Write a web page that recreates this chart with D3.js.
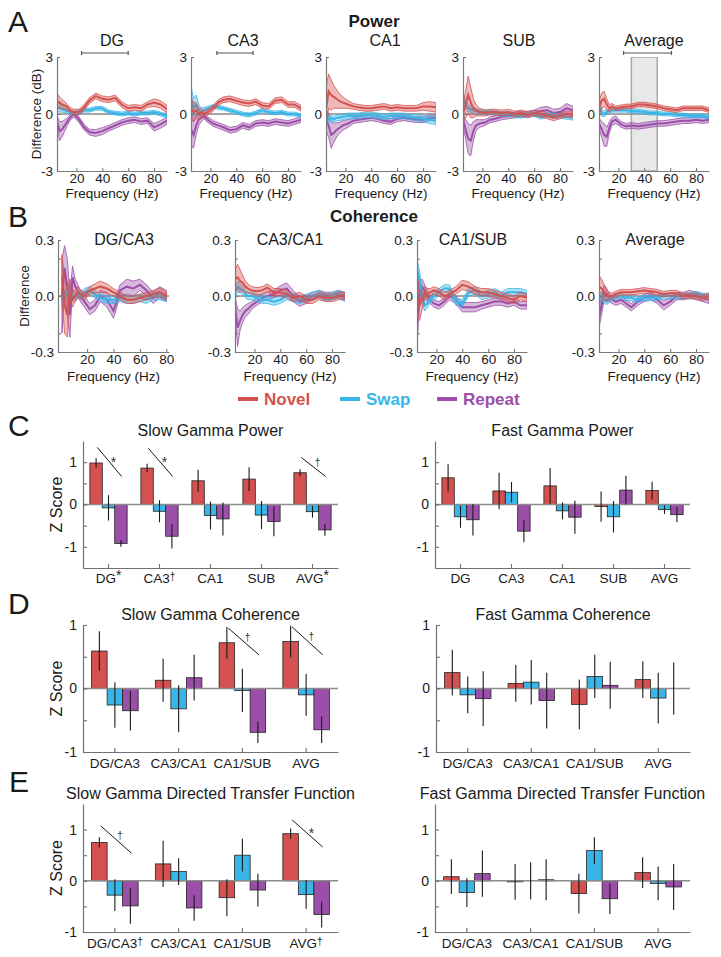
<!DOCTYPE html>
<html><head><meta charset="utf-8">
<script src="https://cdn.jsdelivr.net/npm/d3@7"></script>
<style>body{margin:0;background:#fff;}</style>
</head><body><svg id="c" width="721" height="957"></svg>
<script>
// ---------- DATA ----------
const series = ["Novel","Swap","Repeat"];
const seriesColors = ["#d4514f","#38b6e8","#9b4fa8"];

const freqA = [5,7,9,11,13,15,18,22,26,30,35,40,45,50,55,60,65,70,75,80,85,90];
const freqB1 = [1,3,5,7,9,11,13,15,18,22,26,30,35,40,45,50,55,60,65,70,75,80];

// Power (dB difference), mean and s.e.m.
const pDG_N  = [0.7,0.6,0.5,0.45,0.35,0.2,0.1,0.1,0.35,0.7,0.95,0.8,0.75,0.85,0.5,0.3,0.35,0.3,0.5,0.6,0.5,0.25];
const pDG_Ne = [0.4,0.3,0.25,0.2,0.15,0.15,0.15,0.15,0.15,0.15,0.15,0.15,0.15,0.15,0.15,0.15,0.15,0.15,0.15,0.2,0.2,0.2];
const pDG_S  = [0.4,0.3,0.25,0.2,0.15,0.1,0.05,0.1,0.2,0.2,0.3,0.3,0.1,0.05,0.0,0.05,0.0,0.05,0.05,0.1,0.0,-0.1];
const pDG_Se = [0.25,0.2,0.15,0.12,0.1,0.1,0.1,0.1,0.1,0.1,0.1,0.1,0.1,0.1,0.1,0.1,0.1,0.1,0.1,0.1,0.1,0.1];
const pDG_R  = [-0.4,-0.9,-0.8,-0.6,-0.4,-0.2,0.0,-0.3,-0.7,-0.95,-1.0,-0.9,-0.75,-0.6,-0.45,-0.35,-0.3,-0.4,-0.35,-0.7,-0.55,-0.35];
const pDG_Re = [0.3,0.5,0.4,0.3,0.2,0.15,0.15,0.15,0.15,0.15,0.18,0.18,0.15,0.15,0.15,0.15,0.15,0.15,0.15,0.2,0.2,0.2];

const pCA3_N  = [0.3,0.1,0.2,0.0,0.1,0.0,0.1,0.3,0.6,0.75,0.8,0.7,0.6,0.55,0.65,0.45,0.4,0.7,0.75,0.5,0.5,0.3];
const pCA3_Ne = [0.6,0.5,0.4,0.3,0.2,0.15,0.15,0.15,0.15,0.15,0.15,0.15,0.15,0.15,0.15,0.15,0.15,0.15,0.15,0.15,0.15,0.15];
const pCA3_S  = [0.8,0.3,0.5,0.2,0.1,0.2,0.3,0.4,0.35,0.3,0.2,0.1,0.0,-0.05,0.05,0.2,0.1,0.05,0.1,0.0,0.0,-0.1];
const pCA3_Se = [0.7,0.5,0.5,0.3,0.2,0.15,0.1,0.1,0.1,0.1,0.1,0.1,0.1,0.1,0.1,0.1,0.1,0.1,0.1,0.1,0.1,0.1];
const pCA3_R  = [-0.8,-1.1,-0.6,-0.3,-0.2,-0.1,-0.3,-0.5,-0.6,-0.7,-0.85,-0.8,-0.6,-0.7,-0.5,-0.45,-0.5,-0.4,-0.45,-0.5,-0.4,-0.3];
const pCA3_Re = [0.8,0.7,0.5,0.3,0.2,0.15,0.15,0.15,0.15,0.15,0.15,0.15,0.15,0.15,0.15,0.15,0.15,0.15,0.15,0.15,0.15,0.15];

const pCA1_N  = [0.2,1.2,1.0,0.9,0.8,0.7,0.6,0.5,0.4,0.35,0.3,0.3,0.35,0.4,0.3,0.35,0.3,0.3,0.3,0.4,0.4,0.35];
const pCA1_Ne = [1.2,0.9,0.8,0.6,0.5,0.4,0.3,0.2,0.15,0.15,0.15,0.15,0.15,0.15,0.15,0.15,0.15,0.15,0.15,0.2,0.25,0.25];
const pCA1_S  = [-0.1,-0.3,-0.2,-0.3,-0.2,-0.2,-0.15,-0.1,-0.1,-0.1,-0.05,-0.05,-0.1,-0.15,-0.1,-0.1,-0.1,-0.15,-0.2,-0.25,-0.3,-0.35];
const pCA1_Se = [0.3,0.2,0.15,0.15,0.15,0.15,0.15,0.15,0.15,0.15,0.15,0.15,0.15,0.15,0.15,0.15,0.15,0.15,0.15,0.15,0.2,0.2];
const pCA1_R  = [-0.3,-0.6,-1.1,-1.0,-0.85,-0.75,-0.6,-0.5,-0.35,-0.3,-0.25,-0.2,-0.25,-0.35,-0.4,-0.25,-0.2,-0.25,-0.3,-0.3,-0.2,-0.2];
const pCA1_Re = [0.6,0.6,0.7,0.5,0.4,0.3,0.25,0.2,0.15,0.15,0.15,0.15,0.15,0.15,0.15,0.15,0.15,0.15,0.15,0.15,0.15,0.15];

const pSUB_N  = [0.0,0.5,1.0,0.6,0.3,0.2,0.1,0.05,0.1,0.1,0.05,0.1,0.0,0.05,-0.05,0.05,0.0,-0.1,-0.2,-0.1,0.0,-0.05];
const pSUB_Ne = [0.5,0.7,1.0,0.8,0.5,0.3,0.2,0.15,0.15,0.15,0.15,0.15,0.15,0.15,0.15,0.15,0.15,0.15,0.15,0.15,0.15,0.15];
const pSUB_S  = [0.8,0.5,0.3,0.25,0.2,0.15,0.1,0.1,0.1,0.05,0.0,0.0,-0.05,-0.1,0.0,0.0,-0.15,-0.05,-0.1,-0.1,-0.15,-0.2];
const pSUB_Se = [0.3,0.25,0.2,0.15,0.15,0.15,0.12,0.12,0.12,0.12,0.12,0.12,0.12,0.12,0.12,0.12,0.12,0.12,0.12,0.12,0.12,0.12];
const pSUB_R  = [-0.3,-0.8,-1.3,-1.4,-0.9,-0.6,-0.5,-0.45,-0.3,-0.25,-0.15,-0.1,-0.05,0.0,0.0,0.05,0.15,0.2,0.05,0.1,0.3,0.2];
const pSUB_Re = [0.3,0.5,0.8,0.8,0.5,0.3,0.2,0.15,0.15,0.15,0.15,0.15,0.15,0.15,0.15,0.15,0.2,0.2,0.2,0.2,0.25,0.2];

const pAVG_N  = [0.3,0.7,0.8,0.5,0.3,0.4,0.3,0.35,0.4,0.4,0.5,0.5,0.45,0.4,0.3,0.25,0.2,0.3,0.3,0.3,0.3,0.2];
const pAVG_Ne = [0.4,0.4,0.4,0.3,0.2,0.15,0.12,0.12,0.12,0.12,0.12,0.12,0.12,0.12,0.12,0.12,0.12,0.12,0.12,0.12,0.12,0.12];
const pAVG_S  = [0.4,0.1,0.0,0.1,0.15,0.2,0.2,0.2,0.2,0.15,0.15,0.1,0.05,0.05,0.0,0.0,-0.05,-0.05,-0.1,-0.1,-0.1,-0.15];
const pAVG_Se = [0.3,0.2,0.15,0.12,0.1,0.1,0.1,0.1,0.1,0.1,0.1,0.1,0.1,0.1,0.1,0.1,0.1,0.1,0.1,0.1,0.1,0.1];
const pAVG_R  = [-0.5,-0.8,-1.1,-1.2,-0.7,-0.4,-0.3,-0.55,-0.65,-0.6,-0.65,-0.6,-0.55,-0.5,-0.5,-0.45,-0.4,-0.35,-0.35,-0.3,-0.35,-0.3];
const pAVG_Re = [0.3,0.4,0.6,0.5,0.3,0.2,0.2,0.15,0.15,0.15,0.15,0.15,0.15,0.15,0.15,0.15,0.15,0.15,0.15,0.15,0.15,0.15];

// Coherence difference, mean and s.e.m.
const cDC_N  = [0.1,-0.05,-0.1,0.03,-0.02,0.0,0.02,0.01,0.0,0.03,0.04,0.05,0.04,0.02,0.0,-0.02,-0.02,-0.01,0.0,0.01,0.02,0.0];
const cDC_Ne = [0.12,0.15,0.12,0.06,0.04,0.03,0.03,0.025,0.02,0.02,0.025,0.03,0.025,0.02,0.02,0.02,0.02,0.02,0.02,0.02,0.025,0.02];
const cDC_S  = [-0.03,0.0,0.02,0.01,0.0,-0.01,0.01,0.0,0.02,0.03,0.01,-0.01,-0.02,-0.02,-0.01,-0.02,-0.02,-0.01,-0.02,0.0,0.0,-0.01];
const cDC_Se = [0.03,0.03,0.03,0.02,0.02,0.02,0.02,0.02,0.02,0.02,0.02,0.02,0.02,0.02,0.02,0.02,0.02,0.02,0.02,0.02,0.02,0.02];
const cDC_R  = [0.0,0.15,0.05,-0.1,0.1,0.05,0.03,0.0,-0.03,-0.07,-0.05,0.0,-0.02,-0.08,0.03,0.05,0.04,0.06,0.03,-0.01,0.02,0.0];
const cDC_Re = [0.2,0.12,0.15,0.12,0.06,0.04,0.03,0.03,0.03,0.03,0.03,0.03,0.04,0.04,0.03,0.04,0.04,0.03,0.03,0.03,0.03,0.03];

const cCC_N  = [0.09,0.1,0.08,0.07,0.05,0.04,0.03,0.025,0.03,0.045,0.02,0.02,0.01,-0.01,0.0,-0.02,-0.02,0.0,-0.01,-0.01,0.0,0.0];
const cCC_Ne = [0.05,0.07,0.06,0.04,0.03,0.025,0.02,0.02,0.02,0.02,0.02,0.02,0.02,0.02,0.02,0.02,0.02,0.02,0.02,0.02,0.02,0.02];
const cCC_S  = [0.02,0.05,0.04,0.03,0.01,0.0,0.0,-0.01,-0.02,-0.02,-0.03,-0.02,0.0,-0.01,-0.02,-0.01,0.0,0.01,-0.01,0.0,0.01,-0.01];
const cCC_Se = [0.03,0.03,0.025,0.02,0.02,0.02,0.02,0.02,0.02,0.02,0.02,0.02,0.02,0.02,0.02,0.02,0.02,0.02,0.02,0.02,0.02,0.02];
const cCC_R  = [-0.05,-0.17,-0.13,-0.1,-0.08,-0.07,-0.05,-0.03,-0.01,0.0,0.01,0.03,0.04,0.0,-0.03,-0.02,0.0,0.01,0.0,0.0,0.01,0.0];
const cCC_Re = [0.05,0.1,0.05,0.04,0.03,0.03,0.02,0.02,0.02,0.02,0.02,0.025,0.03,0.03,0.025,0.02,0.02,0.02,0.02,0.02,0.02,0.02];

const cCS_N  = [0.0,-0.05,-0.02,0.02,0.01,0.02,0.03,0.02,0.0,0.01,0.03,0.06,0.05,0.03,0.02,0.02,0.01,0.0,-0.01,-0.02,0.0,-0.01];
const cCS_Ne = [0.12,0.08,0.05,0.03,0.03,0.02,0.02,0.02,0.02,0.02,0.02,0.025,0.025,0.02,0.02,0.02,0.02,0.02,0.02,0.02,0.02,0.02];
const cCS_S  = [0.15,0.08,0.0,-0.05,-0.04,-0.02,0.0,0.02,0.04,0.04,-0.03,-0.04,0.02,0.03,0.0,0.01,0.02,0.0,0.02,0.02,0.02,0.01];
const cCS_Se = [0.05,0.05,0.04,0.03,0.02,0.02,0.02,0.02,0.02,0.02,0.02,0.02,0.02,0.02,0.02,0.02,0.02,0.02,0.02,0.02,0.02,0.02];
const cCS_R  = [-0.15,0.02,0.05,0.03,0.0,-0.02,-0.04,-0.05,-0.03,0.0,-0.02,-0.06,-0.06,-0.06,-0.05,-0.04,-0.03,-0.03,-0.04,-0.03,-0.05,-0.05];
const cCS_Re = [0.12,0.06,0.04,0.03,0.03,0.02,0.02,0.02,0.02,0.02,0.02,0.025,0.025,0.025,0.02,0.02,0.02,0.02,0.02,0.02,0.02,0.02];

const cAV_N  = [0.05,0.04,0.02,0.0,0.0,0.0,0.01,0.02,0.02,0.02,0.025,0.03,0.025,0.02,0.01,0.015,0.015,0.0,0.0,0.0,-0.01,0.0];
const cAV_Ne = [0.06,0.05,0.04,0.03,0.02,0.015,0.015,0.015,0.015,0.015,0.015,0.015,0.015,0.015,0.015,0.015,0.015,0.015,0.015,0.015,0.015,0.015];
const cAV_S  = [0.0,0.0,-0.02,-0.03,-0.02,-0.01,0.0,0.0,-0.01,-0.01,-0.02,-0.01,-0.01,-0.01,0.0,0.0,0.0,0.0,0.0,0.01,0.0,0.0];
const cAV_Se = [0.02,0.02,0.02,0.015,0.015,0.015,0.015,0.015,0.015,0.015,0.015,0.015,0.015,0.015,0.015,0.015,0.015,0.015,0.015,0.015,0.015,0.015];
const cAV_R  = [-0.12,-0.05,0.02,0.01,-0.01,-0.02,-0.03,-0.02,-0.04,-0.06,-0.03,-0.01,0.0,-0.02,-0.05,-0.03,0.0,0.0,0.01,0.0,-0.01,-0.02];
const cAV_Re = [0.05,0.05,0.04,0.03,0.02,0.02,0.02,0.02,0.02,0.02,0.02,0.02,0.02,0.02,0.025,0.02,0.02,0.02,0.02,0.02,0.02,0.02];

// Bar charts (z scores), mean and error
const cats1 = ["DG","CA3","CA1","SUB","AVG"];
const cats2 = ["DG/CA3","CA3/CA1","CA1/SUB","AVG"];

const slowPowN = [0.98,0.86,0.56,0.60,0.75],   slowPowNe = [0.11,0.10,0.26,0.28,0.08];
const slowPowS = [-0.08,-0.16,-0.26,-0.25,-0.17], slowPowSe = [0.30,0.26,0.33,0.33,0.14];
const slowPowR = [-0.92,-0.75,-0.34,-0.40,-0.60], slowPowRe = [0.08,0.29,0.39,0.35,0.14];
const slowPowSup = ["*","†","","","*"];
const slowPowSig = [{cat:"DG",sym:"*",from:1.35,to:0.66},{cat:"CA3",sym:"*",from:1.33,to:0.66},{cat:"AVG",sym:"†",from:1.11,to:0.66}];

const fastPowN = [0.63,0.32,0.44,-0.05,0.33],  fastPowNe = [0.32,0.43,0.42,0.36,0.21];
const fastPowS = [-0.29,0.29,-0.15,-0.29,-0.12], fastPowSe = [0.26,0.24,0.20,0.37,0.10];
const fastPowR = [-0.36,-0.63,-0.30,0.34,-0.24], fastPowRe = [0.37,0.26,0.39,0.34,0.18];

const slowCohN = [0.59,0.13,0.72,0.74],   slowCohNe = [0.31,0.34,0.25,0.25];
const slowCohS = [-0.26,-0.32,-0.03,-0.10], slowCohSe = [0.36,0.37,0.34,0.33];
const slowCohR = [-0.35,0.17,-0.69,-0.65], slowCohRe = [0.31,0.36,0.17,0.21];
const slowCohSig = [{cat:"CA1/SUB",sym:"†",from:0.95,to:0.53},{cat:"AVG",sym:"†",from:0.97,to:0.53}];

const fastCohN = [0.25,0.08,-0.25,0.14],  fastCohNe = [0.36,0.29,0.39,0.29];
const fastCohS = [-0.10,0.10,0.19,-0.15], fastCohSe = [0.29,0.35,0.34,0.40];
const fastCohR = [-0.16,-0.19,0.05,0.0],  fastCohRe = [0.43,0.44,0.37,0.41];

const slowDtfN = [0.75,0.33,-0.33,0.92],  slowDtfNe = [0.10,0.45,0.36,0.10];
const slowDtfS = [-0.28,0.18,0.50,-0.27], slowDtfSe = [0.31,0.26,0.32,0.28];
const slowDtfR = [-0.49,-0.53,-0.18,-0.66], slowDtfRe = [0.35,0.25,0.32,0.25];
const slowDtfSup = ["†","","","†"];
const slowDtfSig = [{cat:"DG/CA3",sym:"†",from:1.07,to:0.54},{cat:"AVG",sym:"*",from:1.19,to:0.66}];

const fastDtfN = [0.08,-0.02,-0.25,0.16],  fastDtfNe = [0.34,0.35,0.39,0.30];
const fastDtfS = [-0.23,0.0,0.59,-0.05],   fastDtfSe = [0.28,0.36,0.26,0.33];
const fastDtfR = [0.14,0.02,-0.35,-0.12],  fastDtfRe = [0.45,0.40,0.30,0.45];

// ---------- DRAWING ----------
const FONT = "Arial, 'Liberation Sans', Helvetica, sans-serif";
const svg = d3.select("#c").attr("font-family", FONT);
let clipN = 0;

function txt(x, y, s, o = {}) {
  const t = svg.append("text").attr("x", x).attr("y", y).text(s)
    .attr("font-size", o.size || 14).attr("fill", o.fill || "#1a1a1a")
    .attr("text-anchor", o.anchor || "middle");
  if (o.bold) t.attr("font-weight", "bold");
  if (o.rot) t.attr("x", null).attr("y", null).attr("transform", `translate(${x},${y}) rotate(-90)`);
  return t;
}

function styleAxis(g, color, fsize) {
  g.attr("font-family", FONT).attr("font-size", fsize);
  g.select(".domain").attr("stroke", color).attr("stroke-width", 1.2);
  g.selectAll(".tick line").attr("stroke", color).attr("stroke-width", 1.1);
  g.selectAll(".tick text").attr("fill", "#1a1a1a");
}

function linePlot(cfg) {
  const x = d3.scaleLinear().domain(cfg.xdom).range([cfg.x0, cfg.x0 + cfg.w]);
  const y = d3.scaleLinear().domain(cfg.ydom).range([cfg.yBot, cfg.yTop]);
  const id = "clip" + (clipN++);
  svg.append("clipPath").attr("id", id).append("rect")
    .attr("x", cfg.x0).attr("y", cfg.yTop).attr("width", cfg.w).attr("height", cfg.yBot - cfg.yTop);
  const pg = svg.append("g").attr("clip-path", `url(#${id})`);
  if (cfg.shade) {
    pg.append("rect").attr("x", x(cfg.shade[0])).attr("width", x(cfg.shade[1]) - x(cfg.shade[0]))
      .attr("y", cfg.yTop).attr("height", cfg.yBot - cfg.yTop)
      .attr("fill", "#e8e8e8").attr("stroke", "#a8a8a8").attr("stroke-width", 1.5);
  }
  pg.append("line").attr("x1", cfg.x0).attr("x2", cfg.x0 + cfg.w).attr("y1", y(0)).attr("y2", y(0))
    .attr("stroke", "#8a8a8a").attr("stroke-width", 1.3);
  [2, 1, 0].forEach(i => {
    const pts = cfg.freq.map((f, k) => ({ f, m: cfg.means[i][k], s: cfg.sems[i][k] }));
    const c = seriesColors[i];
    pg.append("path").datum(pts)
      .attr("d", d3.area().x(d => x(d.f)).y0(d => y(d.m - d.s)).y1(d => y(d.m + d.s)))
      .attr("fill", c).attr("fill-opacity", 0.4).attr("stroke", c).attr("stroke-width", 0.8);
    pg.append("path").datum(pts)
      .attr("d", d3.line().x(d => x(d.f)).y(d => y(d.m)))
      .attr("fill", "none").attr("stroke", c).attr("stroke-width", 2);
  });
  // axes
  const ya = svg.append("g").attr("transform", `translate(${cfg.x0},0)`)
    .call(d3.axisLeft(y).tickValues(cfg.yticks).tickSize(-3).tickSizeOuter(0).tickPadding(4)
      .tickFormat(d => cfg.ylabels.includes(d) ? cfg.yfmt(d) : ""));
  styleAxis(ya, "#7a7a7a", 13.5);
  const xa = svg.append("g").attr("transform", `translate(0,${cfg.yBot})`)
    .call(d3.axisBottom(x).tickValues([20, 40, 60, 80]).tickSize(-3).tickSizeOuter(0).tickPadding(2)
      .tickFormat(d => String(d)));
  styleAxis(xa, "#7a7a7a", 13.5);
  txt(cfg.x0 + cfg.w / 2, cfg.xlabY, "Frequency (Hz)", { size: 13.5 });
  txt(cfg.titleX, cfg.titleY, cfg.title, { size: 16 });
  if (cfg.bracket) {
    const by = cfg.yTop - 4;
    const bg = svg.append("g").attr("stroke", "#555").attr("stroke-width", 1.2);
    bg.append("line").attr("x1", x(cfg.bracket[0])).attr("x2", x(cfg.bracket[1])).attr("y1", by).attr("y2", by);
    cfg.bracket.forEach(f => bg.append("line").attr("x1", x(f)).attr("x2", x(f)).attr("y1", by - 2).attr("y2", by + 2));
  }
}

// Panel A: Power
const aPlots = [
  { title: "DG", means: [pDG_N, pDG_S, pDG_R], sems: [pDG_Ne, pDG_Se, pDG_Re], bracket: [24, 60] },
  { title: "CA3", means: [pCA3_N, pCA3_S, pCA3_R], sems: [pCA3_Ne, pCA3_Se, pCA3_Re], bracket: [25, 53] },
  { title: "CA1", means: [pCA1_N, pCA1_S, pCA1_R], sems: [pCA1_Ne, pCA1_Se, pCA1_Re] },
  { title: "SUB", means: [pSUB_N, pSUB_S, pSUB_R], sems: [pSUB_Ne, pSUB_Se, pSUB_Re] },
  { title: "Average", means: [pAVG_N, pAVG_S, pAVG_R], sems: [pAVG_Ne, pAVG_Se, pAVG_Re], bracket: [24, 61], shade: [30, 50] }
];
const aX0 = [57, 191, 326, 463, 599];
const aTitleX = [112, 243, 385, 519, 654];
aPlots.forEach((p, i) => linePlot(Object.assign({
  x0: aX0[i], w: 110, yTop: 57, yBot: 171, xdom: [5, 90], ydom: [-3, 3], freq: freqA,
  yticks: [-3, 0, 3], ylabels: [-3, 0, 3], yfmt: d => String(d),
  xlabY: 198, titleX: aTitleX[i], titleY: 46
}, p)));

// Panel B: Coherence
const bPlots = [
  { title: "DG/CA3", means: [cDC_N, cDC_S, cDC_R], sems: [cDC_Ne, cDC_Se, cDC_Re], freq: freqB1, xdom: [-2, 82], w: 111 },
  { title: "CA3/CA1", means: [cCC_N, cCC_S, cCC_R], sems: [cCC_Ne, cCC_Se, cCC_Re] },
  { title: "CA1/SUB", means: [cCS_N, cCS_S, cCS_R], sems: [cCS_Ne, cCS_Se, cCS_Re] },
  { title: "Average", means: [cAV_N, cAV_S, cAV_R], sems: [cAV_Ne, cAV_Se, cAV_Re] }
];
const bX0 = [58, 235, 417, 599];
const bTitleX = [124, 290, 473, 655];
bPlots.forEach((p, i) => linePlot(Object.assign({
  x0: bX0[i], w: 110, yTop: 240, yBot: 352, xdom: [5, 90], ydom: [-0.3, 0.3], freq: freqA,
  yticks: [-0.3, -0.2, 0, 0.2, 0.3], ylabels: [-0.3, 0, 0.3], yfmt: d => d.toFixed(1),
  xlabY: 381, titleX: bTitleX[i], titleY: 245
}, p)));

// Bar charts
function barChart(cfg) {
  const y = d3.scaleLinear().domain(cfg.dom).range([cfg.yBot, cfg.yTop]);
  const x = d3.scaleBand().domain(cfg.cats).range([cfg.x0, cfg.x1]);
  const half = x.step() * 0.365;
  const xs = d3.scaleBand().domain(series).range([-half, half]);
  const g = svg.append("g");
  series.forEach((s, si) => {
    cfg.cats.forEach((c, ci) => {
      const v = cfg.vals[si][ci];
      const cx = x(c) + x.bandwidth() / 2 + xs(s);
      g.append("rect").attr("x", cx).attr("width", xs.bandwidth())
        .attr("y", y(Math.max(0, v))).attr("height", Math.abs(y(v) - y(0)))
        .attr("fill", seriesColors[si]).attr("stroke", "#222").attr("stroke-width", 0.8);
    });
  });
  g.append("line").attr("x1", cfg.x0).attr("x2", cfg.x1).attr("y1", y(0)).attr("y2", y(0))
    .attr("stroke", "#8c8c8c").attr("stroke-width", 1.4);
  series.forEach((s, si) => {
    cfg.cats.forEach((c, ci) => {
      const v = cfg.vals[si][ci], e = cfg.errs[si][ci];
      const mx = x(c) + x.bandwidth() / 2 + xs(s) + xs.bandwidth() / 2;
      g.append("line").attr("x1", mx).attr("x2", mx).attr("y1", y(v - e)).attr("y2", y(v + e))
        .attr("stroke", "#1a1a1a").attr("stroke-width", 1.1);
    });
  });
  // axes
  const ya = svg.append("g").attr("transform", `translate(${cfg.x0},0)`)
    .call(d3.axisLeft(y).tickValues([-1, -0.5, 0, 0.5, 1]).tickSize(-4).tickSizeOuter(0).tickPadding(6)
      .tickFormat(d => [-1, 0, 1].includes(d) ? String(d) : ""));
  styleAxis(ya, "#707070", 14);
  const xa = svg.append("g").attr("transform", `translate(0,${cfg.yBot})`)
    .call(d3.axisBottom(x).tickSize(-4).tickSizeOuter(0).tickFormat(""));
  styleAxis(xa, "#707070", 14);
  cfg.cats.forEach((c, ci) => {
    const t = txt(x(c) + x.bandwidth() / 2, cfg.labY, c, { size: 13.5 });
    const sup = cfg.sups ? cfg.sups[ci] : "";
    if (sup) t.append("tspan").attr("dy", -3).attr("font-size", sup === "*" ? 14 : 10).text(sup);
  });
  txt((cfg.x0 + cfg.x1) / 2, cfg.titleY, cfg.title, { size: 16 });
  if (cfg.ylabel) txt(62, (cfg.yTop + cfg.yBot) / 2, "Z Score", { size: 16, rot: true });
  (cfg.sig || []).forEach(sg => {
    const cx = x(sg.cat) + x.bandwidth() / 2;
    const xa1 = cx - x.step() * 0.22, xa2 = cx + x.step() * 0.26;
    const ya1 = y(sg.from), ya2 = y(sg.to);
    g.append("line").attr("x1", xa1).attr("x2", xa2).attr("y1", ya1).attr("y2", ya2)
      .attr("stroke", "#1a1a1a").attr("stroke-width", 1);
    const mx = (xa1 + xa2) / 2 + 4, my = (ya1 + ya2) / 2;
    txt(mx, my + (sg.sym === "*" ? 5 : -1), sg.sym, { size: sg.sym === "*" ? 14 : 10, fill: "#333" });
  });
}

barChart({ x0: 83, x1: 338, yTop: 441, yBot: 568, dom: [-1.5, 1.5], cats: cats1, sups: slowPowSup,
  vals: [slowPowN, slowPowS, slowPowR], errs: [slowPowNe, slowPowSe, slowPowRe],
  title: "Slow Gamma Power", titleY: 436, labY: 583, ylabel: true, sig: slowPowSig });
barChart({ x0: 435, x1: 690, yTop: 441, yBot: 568, dom: [-1.5, 1.5], cats: cats1,
  vals: [fastPowN, fastPowS, fastPowR], errs: [fastPowNe, fastPowSe, fastPowRe],
  title: "Fast Gamma Power", titleY: 436, labY: 583 });
barChart({ x0: 83, x1: 338, yTop: 625, yBot: 752, dom: [-1, 1], cats: cats2,
  vals: [slowCohN, slowCohS, slowCohR], errs: [slowCohNe, slowCohSe, slowCohRe],
  title: "Slow Gamma Coherence", titleY: 620, labY: 768, ylabel: true, sig: slowCohSig });
barChart({ x0: 436, x1: 690, yTop: 625, yBot: 752, dom: [-1, 1], cats: cats2,
  vals: [fastCohN, fastCohS, fastCohR], errs: [fastCohNe, fastCohSe, fastCohRe],
  title: "Fast Gamma Coherence", titleY: 620, labY: 768 });
barChart({ x0: 83, x1: 338, yTop: 804, yBot: 932, dom: [-1, 1.5], cats: cats2, sups: slowDtfSup,
  vals: [slowDtfN, slowDtfS, slowDtfR], errs: [slowDtfNe, slowDtfSe, slowDtfRe],
  title: "Slow Gamma Directed Transfer Function", titleY: 799, labY: 948, ylabel: true, sig: slowDtfSig });
barChart({ x0: 435, x1: 690, yTop: 804, yBot: 932, dom: [-1, 1.5], cats: cats2,
  vals: [fastDtfN, fastDtfS, fastDtfR], errs: [fastDtfNe, fastDtfSe, fastDtfRe],
  title: "Fast Gamma Directed Transfer Function", titleY: 799, labY: 948 });

// Labels, headings, legend
txt(8, 32, "A", { size: 30, anchor: "start" });
txt(8, 227, "B", { size: 30, anchor: "start" });
txt(8, 436, "C", { size: 30, anchor: "start" });
txt(8, 614, "D", { size: 30, anchor: "start" });
txt(9, 792, "E", { size: 30, anchor: "start" });
txt(374, 27, "Power", { size: 17, bold: true });
txt(374, 222, "Coherence", { size: 17, bold: true });
txt(41, 114, "Difference (dB)", { size: 13.5, rot: true });
txt(29, 296, "Difference", { size: 13.5, rot: true });

const legendX = [238, 340, 437];
series.forEach((s, i) => {
  svg.append("line").attr("x1", legendX[i]).attr("x2", legendX[i] + 20).attr("y1", 399).attr("y2", 399)
    .attr("stroke", seriesColors[i]).attr("stroke-width", 4);
  txt(legendX[i] + 26, 405, s, { size: 17, bold: true, anchor: "start", fill: seriesColors[i] });
});
</script>
</body></html>
